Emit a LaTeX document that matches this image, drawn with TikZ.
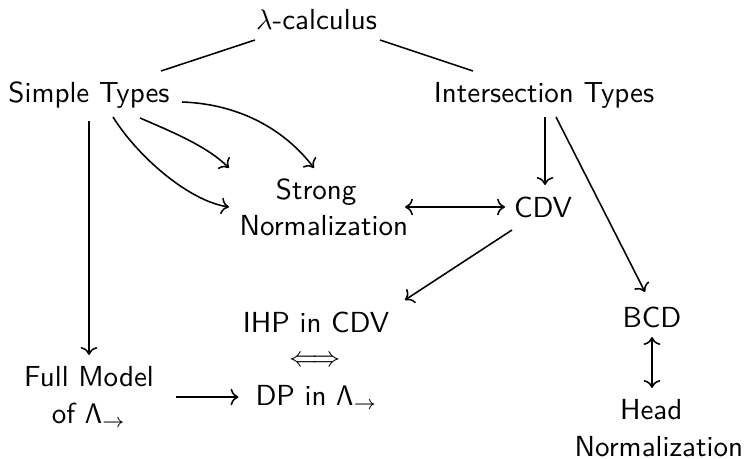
\documentclass[tikz,border=0pt]{standalone}
\usetikzlibrary{calc,arrows.meta}
\begin{document}
\begin{tikzpicture}[x=0.3534pt,y=-0.3534pt,
  lbl/.style={font=\sffamily\fontsize{10.25}{12.8}\selectfont, inner sep=0pt, outer sep=0pt, align=center},
  conn/.style={line width=0.55pt},
  arr/.style={conn,-{Computer Modern Rightarrow}},
  darr/.style={conn,{Computer Modern Rightarrow}-{Computer Modern Rightarrow}}]
\useasboundingbox (0,0) rectangle (744,459);
% nodes
\node[lbl,anchor=base] (lam) at (316.5,30) {$\lambda$-calculus};
\node[lbl,anchor=base] (st) at (89,103) {Simple Types};
\node[lbl,anchor=base] (it) at (544,103) {Intersection Types};
\node[lbl] (sn) at (320,207) {Strong\kern2.7pt\\\kern2.7pt Normalization};
\node[lbl,anchor=base] (cdv) at (543,218) {CDV};
\node[lbl,anchor=base] (ihp) at (316,332) {IHP in CDV};
\node[lbl] (iff) at (315,361) {$\Longleftrightarrow$};
\node[lbl,anchor=base] (dp) at (316.5,405) {DP in $\mathsf{\Lambda}_{\to}$};
\node[lbl] (fm) at (89,397) {Full Model\\of $\mathsf{\Lambda}_{\to}$};
\node[lbl,anchor=base] (bcd) at (652,327) {BCD};
\node[lbl] (hn) at (655,428) {Head\kern2.7pt\\\kern2.7pt Normalization};
% connectors
\draw[conn] ($(lam.base)+(-61.5,10)$) -- ($(st.base)+(72,-32)$);
\draw[conn] ($(lam.base)+(63.5,10)$) -- ($(it.base)+(-71,-32)$);
\draw[arr] ($(st.base)+(0,18)$) -- ($(fm.center)+(0,-42)$);
\draw[arr] ($(st.base)+(93,-1)$) .. controls +(58,2) and +(-29,-38) .. ($(sn.center)+(-6,-39)$);
\draw[arr] ($(st.base)+(51,15)$) .. controls +(30,13) and +(-22,-22) .. ($(sn.center)+(-91,-39)$);
\draw[arr] ($(st.base)+(24,14)$) .. controls +(25,40) and +(-40,-6) .. ($(sn.center)+(-91,0)$);
\draw[darr] ($(sn.center)+(85,0)$) -- ($(cdv.base)+(-38,-11)$);
\draw[arr] ($(it.base)+(1,14)$) -- ($(cdv.base)+(2,-33)$);
\draw[arr] ($(it.base)+(12,14)$) -- ($(bcd.base)+(-7,-35)$);
\draw[arr] ($(cdv.base)+(-31,12)$) -- ($(ihp.base)+(89,-32)$);
\draw[darr] ($(bcd.base)+(0,10)$) -- ($(hn.center)+(-3,-40)$);
\draw[arr] ($(fm.center)+(87,0)$) -- ($(dp.base)+(-78,-8)$);
\end{tikzpicture}
\end{document}
